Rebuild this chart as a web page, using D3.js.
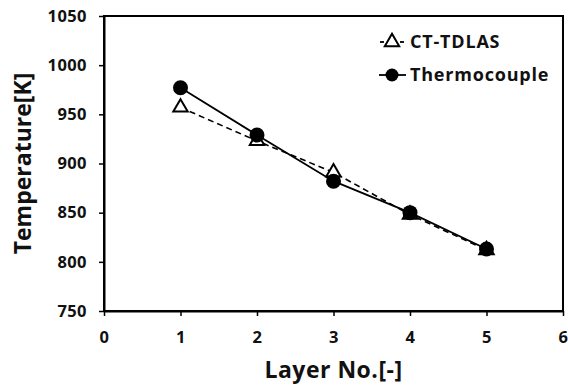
<!DOCTYPE html>
<html>
<head>
<meta charset="utf-8">
<script src="https://cdn.jsdelivr.net/npm/d3@7"></script>
<style>
  body { margin: 0; background: #fff; }
  text { font-family: "Open Sans", sans-serif; font-weight: 600; fill: #111; }
</style>
</head>
<body>
<svg id="chart" width="568" height="388"></svg>
<script>
const layers = [1, 2, 3, 4, 5];
const tdlas = [957, 923, 891, 848, 812];
const thermo = [977, 929, 882, 850, 813];
const xTicks = [0, 1, 2, 3, 4, 5, 6];
const yTicks = [750, 800, 850, 900, 950, 1000, 1050];

const svg = d3.select("#chart");
const mLeft = 104, mRight = 563, mTop = 16, mBottom = 311;

let xscale = d3.scaleLinear().domain([0, 6]).range([mLeft, mRight]);
let yscale = d3.scaleLinear().domain([750, 1050]).range([mBottom, mTop]);

// frame
svg.append("rect")
    .attr("x", mLeft).attr("y", mTop)
    .attr("width", mRight - mLeft).attr("height", mBottom - mTop)
    .attr("fill", "none").attr("stroke", "#000").attr("stroke-width", 2);

const xAxis = svg.append("g")
    .attr("transform", `translate(0,${mBottom})`)
    .call(d3.axisBottom(xscale).tickValues(xTicks).tickFormat(d3.format("d"))
        .tickSize(5).tickSizeOuter(0));
const yAxis = svg.append("g")
    .attr("transform", `translate(${mLeft},0)`)
    .call(d3.axisLeft(yscale).tickValues(yTicks).tickFormat(d3.format("d"))
        .tickSize(5).tickSizeOuter(0));

[xAxis, yAxis].forEach(a => {
    a.select(".domain").attr("stroke-width", 2);
    a.selectAll(".tick line").attr("stroke-width", 1.5);
    a.selectAll("text").style("font-size", "16.5px").style("font-weight", 700)
        .style("letter-spacing", "0.4px").attr("fill", "#111");
});
xAxis.selectAll("text").attr("dy", "1.45em");
yAxis.selectAll("text").attr("dx", "-0.55em");

// axis titles
svg.append("text")
    .attr("x", xscale(3)).attr("y", 378)
    .attr("text-anchor", "middle")
    .style("font-size", "23px").style("font-weight", 700)
    .style("letter-spacing", "0.5px")
    .text("Layer No.[-]");
svg.append("text")
    .attr("transform", `translate(31,${(mTop + mBottom) / 2}) rotate(-90)`)
    .attr("text-anchor", "middle")
    .style("font-size", "23px").style("font-weight", 700)
    .text("Temperature[K]");

const tdlasData = layers.map((l, i) => ({x: l, y: tdlas[i]}));
const thermoData = layers.map((l, i) => ({x: l, y: thermo[i]}));

const line = d3.line().x(d => xscale(d.x)).y(d => yscale(d.y));

svg.append("path").datum(tdlasData)
    .attr("d", line).attr("fill", "none")
    .attr("stroke", "#000").attr("stroke-width", 1.6)
    .attr("stroke-dasharray", "6,4");
svg.append("path").datum(thermoData)
    .attr("d", line).attr("fill", "none")
    .attr("stroke", "#000").attr("stroke-width", 1.8);

const tri = d3.symbol().type(d3.symbolTriangle).size(90);

svg.selectAll(".tri").data(tdlasData).join("path")
    .attr("class", "tri")
    .attr("transform", d => `translate(${xscale(d.x)},${yscale(d.y)})`)
    .attr("d", tri)
    .attr("fill", "#fff").attr("stroke", "#000").attr("stroke-width", 2);

svg.selectAll(".dot").data(thermoData).join("circle")
    .attr("class", "dot")
    .attr("cx", d => xscale(d.x)).attr("cy", d => yscale(d.y))
    .attr("r", 7.5).attr("fill", "#000");

// legend
const lg = svg.append("g");
lg.append("line").attr("x1", 380).attr("x2", 384).attr("y1", 42).attr("y2", 42)
    .attr("stroke", "#000").attr("stroke-width", 1.8);
lg.append("line").attr("x1", 400).attr("x2", 404).attr("y1", 42).attr("y2", 42)
    .attr("stroke", "#000").attr("stroke-width", 1.8);
lg.append("path").attr("transform", "translate(392,42)").attr("d", tri)
    .attr("fill", "#fff").attr("stroke", "#000").attr("stroke-width", 2);
lg.append("text").attr("x", 410).attr("y", 42).attr("dy", "0.36em")
    .style("font-size", "18px").style("font-weight", 700)
    .style("letter-spacing", "0.8px").text("CT-TDLAS");

lg.append("line").attr("x1", 379).attr("x2", 406).attr("y1", 75).attr("y2", 75)
    .attr("stroke", "#000").attr("stroke-width", 1.8);
lg.append("circle").attr("cx", 392).attr("cy", 75).attr("r", 6.5).attr("fill", "#000");
lg.append("text").attr("x", 410).attr("y", 75).attr("dy", "0.36em")
    .style("font-size", "18px").style("font-weight", 700)
    .style("letter-spacing", "0.8px").text("Thermocouple");
</script>
</body>
</html>
